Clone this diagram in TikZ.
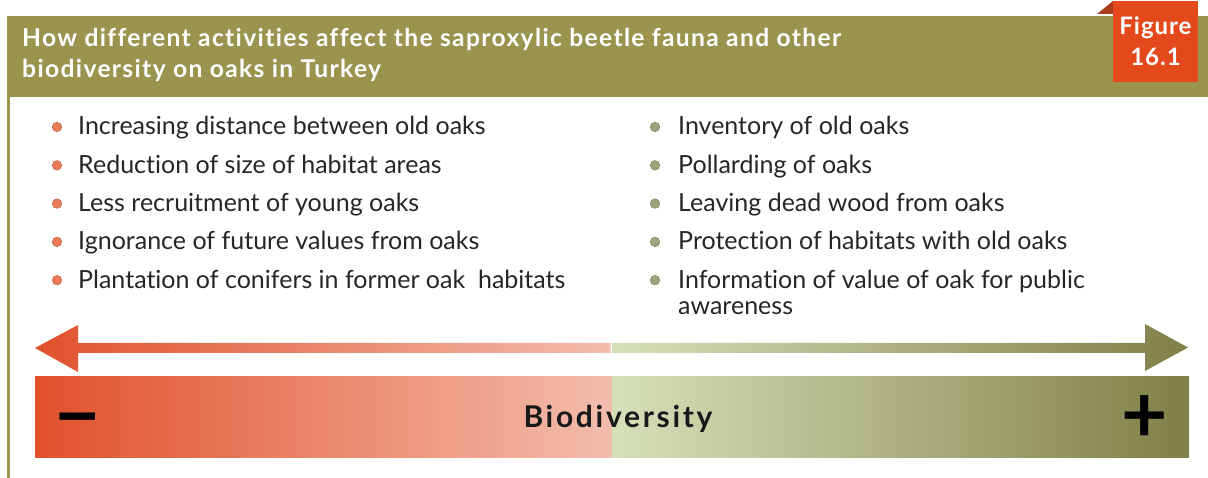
\documentclass[tikz,border=0pt]{standalone}
\usepackage{fontspec}
\setmainfont{Lato}[Ligatures=NoCommon]
\usetikzlibrary{positioning}

\definecolor{hdrolive}{HTML}{9A944F}
\definecolor{tabred}{HTML}{E4491B}
\definecolor{tabdark}{HTML}{A83C1B}
\definecolor{dotred}{HTML}{E97B58}
\definecolor{dotgreen}{HTML}{9DA47A}
\definecolor{redstrong}{HTML}{E1512D}
\definecolor{redpale}{HTML}{F3BDAD}
\definecolor{greenpale}{HTML}{D6E0B8}
\definecolor{greendark}{HTML}{817F49}

\begin{document}
\begin{tikzpicture}[
  x=1pt, y=-1pt,
  title/.style={anchor=base west, inner sep=0pt, align=left, text=white,
    font=\fontsize{24.6}{31}\selectfont\bfseries\addfontfeatures{LetterSpace=5.5}},
  item/.style={anchor=base west, inner sep=0pt, align=left, text=black!85,
    font=\fontsize{25}{26}\selectfont},
  dotbad/.style={circle, fill=dotred, draw=dotred!85!black, line width=0.6pt,
    minimum size=9.5pt, inner sep=0pt},
  dotgood/.style={dotbad, fill=dotgreen, draw=dotgreen!85!black},
  sign/.style={inner sep=0pt, font=\fontsize{80}{80}\selectfont\bfseries}
]
\useasboundingbox[fill=white] (0,0) rectangle (1208,478);

% header band and left rule
\fill[hdrolive] (7,16) rectangle (1208,97);
\fill[hdrolive] (7,97) rectangle (10,478);
\node[title] (title) at (22,78)
  {How different activities affect the saproxylic beetle fauna and other\\
   biodiversity on oaks in Turkey};

% figure tab
\fill[tabdark] (1097,14) -- (1113,1) -- (1113,14) -- cycle;
\node[fill=tabred, minimum width=85pt, minimum height=81pt, inner sep=0pt,
  align=center, text=white,
  font=\fontsize{24}{31}\selectfont\bfseries\addfontfeatures{LetterSpace=4}]
  (tab) at (1155.5,41.5) {Figure\\16.1};

% activities that lower biodiversity
\foreach \txt [count=\i] in {Increasing distance between old oaks,
    Reduction of size of habitat areas,
    Less recruitment of young oaks,
    Ignorance of future values from oaks,
    Plantation of conifers in former oak\ \ habitats}{
  \pgfmathsetmacro{\yy}{127+38.3*(\i-1)}
  \node[dotbad] (bd\i) at (57,\yy) {};
  \node[item] (bad\i) at (78,\yy+8) {\txt};
}

% activities that raise biodiversity
\foreach \txt [count=\i] in {Inventory of old oaks,
    Pollarding of oaks,
    Leaving dead wood from oaks,
    Protection of habitats with old oaks}{
  \pgfmathsetmacro{\yy}{127+38.3*(\i-1)}
  \node[dotgood] (gd\i) at (655,\yy) {};
  \node[item] (good\i) at (678,\yy+8) {\txt};
}
\node[dotgood] (gd5) at (655,280.2) {};
\node[item] (good5) at (678,314.2)
  {Information of value of oak for public\\awareness};

% double arrow, two shaded halves
\coordinate (lefttip) at (35,348);
\coordinate (righttip) at (1188,347.5);
\coordinate (mid) at (610.5,348);
\shade[left color=redstrong, right color=redpale]
  (lefttip) -- (78,325) -- (78,343) -- (mid |- 0,343) -- (mid |- 0,353)
  -- (78,353) -- (78,372) -- cycle;
\shade[left color=greenpale, right color=greendark]
  (612,343) -- (1145,343) -- (1145,324) -- (righttip) -- (1145,371)
  -- (1145,353) -- (612,353) -- cycle;

% scale bar
\shade[left color=redstrong, right color=redpale] (35,377) rectangle (612,457);
\shade[left color=greenpale, right color=greendark] (612,377) rectangle (1189,457);
\node[sign] (minus) at (78,428) {−};
\node[sign] (plus) at (1145,419) {+};
\node[inner sep=0pt, text=black!90,
  font=\fontsize{30}{30}\selectfont\bfseries\addfontfeatures{LetterSpace=9}]
  (bio) at (618,419) {Biodiversity};
\end{tikzpicture}
\end{document}
